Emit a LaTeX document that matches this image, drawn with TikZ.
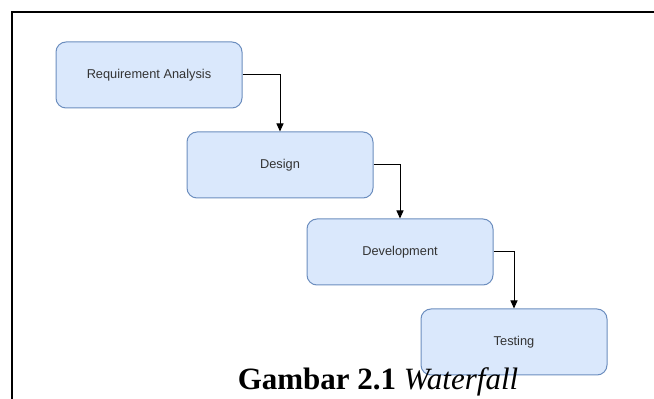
\documentclass[tikz,border=0pt]{standalone}
\usepackage{fontspec}
\setmainfont{Liberation Serif}
\newfontfamily\boxfont{Liberation Sans}
\usetikzlibrary{arrows.meta}
\definecolor{boxfill}{HTML}{DAE8FC}
\definecolor{boxline}{HTML}{6C8EBF}
\definecolor{boxtext}{HTML}{333333}
\tikzset{
  x=1pt,y=1pt,
  phase/.style={draw=boxline, fill=boxfill, rounded corners=10pt, line width=1pt,
    minimum width=186pt, minimum height=66pt, inner sep=0pt,
    font=\boxfont\fontsize{12.8}{15}\selectfont, text=boxtext},
  flow/.style={draw=black, line width=1pt, -{Triangle[length=8pt,width=7pt]}},
  frame/.style={draw=black, line width=1.3pt}
}
\begin{document}
\begin{tikzpicture}
\useasboundingbox (0,0) rectangle (654,399);
\fill[white] (0,0) rectangle (654,399);
\draw[frame] (12,0) -- (12,387) -- (654,387);
\node[phase] (ra) at (149,324) {Requirement Analysis};
\node[phase] (de) at (280,234) {Design};
\node[phase] (dv) at (400,147) {Development};
\node[phase] (te) at (514,57) {Testing};
\draw[flow] (ra.east) -| (de.north);
\draw[flow] (de.east) -| (dv.north);
\draw[flow] (dv.east) -| (te.north);
\node[anchor=base, inner sep=0pt, font=\fontsize{31}{34}\selectfont] (cap) at (378,9) {\textbf{Gambar 2.1} \textit{Waterfall}};
\end{tikzpicture}
\end{document}
